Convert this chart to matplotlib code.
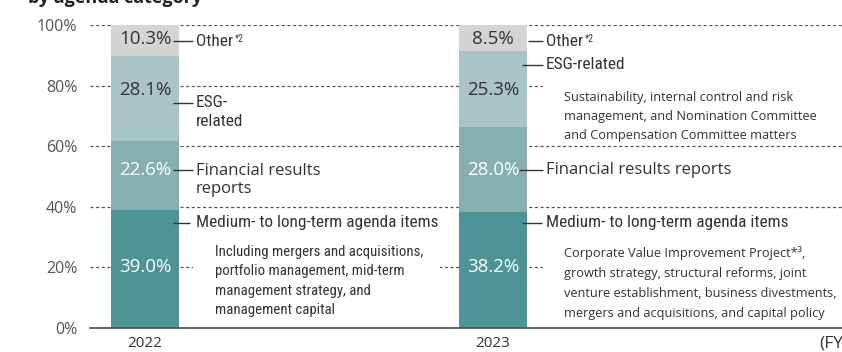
import matplotlib
matplotlib.use("Agg")
import matplotlib.pyplot as plt
from matplotlib import font_manager
from matplotlib.patches import Rectangle

# Share of board agenda items by category (%)
years = ["2022", "2023"]
categories = ["Medium- to long-term agenda items", "Financial results reports",
              "ESG-related", "Other"]
medium_long = [39.0, 38.2]
financial = [22.6, 28.0]
esg = [28.1, 25.3]
other = [10.3, 8.5]
series = [medium_long, financial, esg, other]

colors = ["#4e9496", "#88afaf", "#a9c4c6", "#d4d4d4"]
value_colors = ["white", "white", "#333333", "#333333"]
yticks = [0, 20, 40, 60, 80, 100]


def pick(*names):
    have = {f.name for f in font_manager.fontManager.ttflist}
    for n in names:
        if n in have:
            return n
    return "DejaVu Sans"


REG = pick("Open Sans", "Noto Sans", "DejaVu Sans")
NARROW = pick("Liberation Sans Narrow", "Roboto Condensed", "Open Sans")
plt.rcParams["font.family"] = [REG, "DejaVu Sans"]

W, H = 842, 352
fig = plt.figure(figsize=(W / 100, H / 100), dpi=100)
# axes: x from 90px to the right edge, 0% at y=328px, 100% at y=25px
ax = fig.add_axes([90 / W, (H - 328) / H, 1 - 90 / W, 303 / H])

# bar centres at 145px and 493px
xc = [0, 1]
bw = 68 / 348
ax.set_xlim((90 - 145) / 348, (842 - 145) / 348)
ax.set_ylim(0, 100)


def px(x):
    return (x - 145) / 348


def py(y):
    return (328 - y) / 3.03


bottom = [0, 0]
for vals, c in zip(series, colors):
    ax.bar(xc, vals, bw, bottom=bottom, color=c, zorder=3, linewidth=0)
    bottom = [b + v for b, v in zip(bottom, vals)]

# value labels inside bars
label_y = [20, 52, 78.5, 95.5]
for vals, ly, tc in zip(series, label_y, value_colors):
    for x, v in zip(xc, vals):
        ax.text(x, ly, f"{v:.1f}%", ha="center", va="center", color=tc,
                fontsize=13.5, zorder=5)

# dotted grid and axis line
for t in yticks[1:]:
    ax.axhline(t, color="#555555", lw=0.9, ls=(0, (2.5, 2)), zorder=1)
ax.axhline(0, color="#555555", lw=1.3, zorder=4, clip_on=False)

for s in ax.spines.values():
    s.set_visible(False)
ax.set_yticks(yticks)
ax.set_yticklabels([f"{t}%" for t in yticks], color="#555555", fontsize=11.5)
ax.tick_params(axis="y", length=0, pad=9)
ax.set_xticks(xc)
ax.set_xticklabels(years, color="#333333", fontsize=11)
ax.tick_params(axis="x", length=0, pad=6)
fig.text(819 / W, (H - 344) / H, "(FY)", color="#333333", fontsize=12.5,
         va="center", ha="left")

fig.text(28 / W, 1 - 3 / H, "by agenda category", fontsize=13,
         fontweight="bold", color="#222222", va="baseline")

# white boxes behind the detail notes so the grid breaks around them
for x0, x1, y0, y1 in [(193, 440, 240, 322), (543, 842, 80, 142), (543, 842, 240, 323)]:
    ax.add_patch(Rectangle((px(x0), py(y1)), px(x1) - px(x0), py(y0) - py(y1),
                           fc="white", ec="none", zorder=2))

dark = "#333333"


def leader(x0, x1, y):
    ax.plot([px(x0), px(x1)], [py(y), py(y)], color=dark, lw=1, zorder=6,
            solid_capstyle="butt")


def label(x, y, s, font, size, sup=None, **kw):
    t = ax.text(px(x), py(y), s, fontfamily=font, fontsize=size, color=dark,
                va="center", ha="left", zorder=6, **kw)
    if sup:
        ax.annotate(sup, xy=(1, 1), xycoords=t, xytext=(1, 0),
                    textcoords="offset points", fontsize=7, color=dark,
                    va="top", ha="left", fontfamily=font)
    return t


# 2022 labels
leader(173, 193, 41)
label(196, 41, "Other", NARROW, 12.4, sup="*2")
leader(173, 193, 103)
label(196, 112, "ESG-\nrelated", NARROW, 12.4, linespacing=1.3)
leader(173, 193, 170)
label(196, 180, "Financial results\nreports", REG, 12, linespacing=1.15)
leader(173, 190, 223)
label(196, 223, categories[0], NARROW, 12.4)
label(215, 281, "Including mergers and acquisitions,\nportfolio management, mid-term\n"
      "management strategy, and\nmanagement capital", NARROW, 10.6, linespacing=1.47)

# 2023 labels
leader(528, 543, 41)
label(546, 41, "Other", NARROW, 12.4, sup="*2")
leader(522, 543, 65)
label(546, 65, "ESG-related", NARROW, 12.4)
label(564, 116.5, "Sustainability, internal control and risk\n"
      "management, and Nomination Committee\n"
      "and Compensation Committee matters", REG, 9.2, linespacing=1.62)
leader(519, 543, 170)
label(546, 170, "Financial results reports", REG, 12)
leader(522, 542, 223)
label(546, 223, categories[0], NARROW, 12.4)
label(564, 283, "Corporate Value Improvement Project*³,\n"
      "growth strategy, structural reforms, joint\n"
      "venture establishment, business divestments,\n"
      "mergers and acquisitions, and capital policy", REG, 9.2, linespacing=1.7)

fig.savefig("out.png", dpi=100)
